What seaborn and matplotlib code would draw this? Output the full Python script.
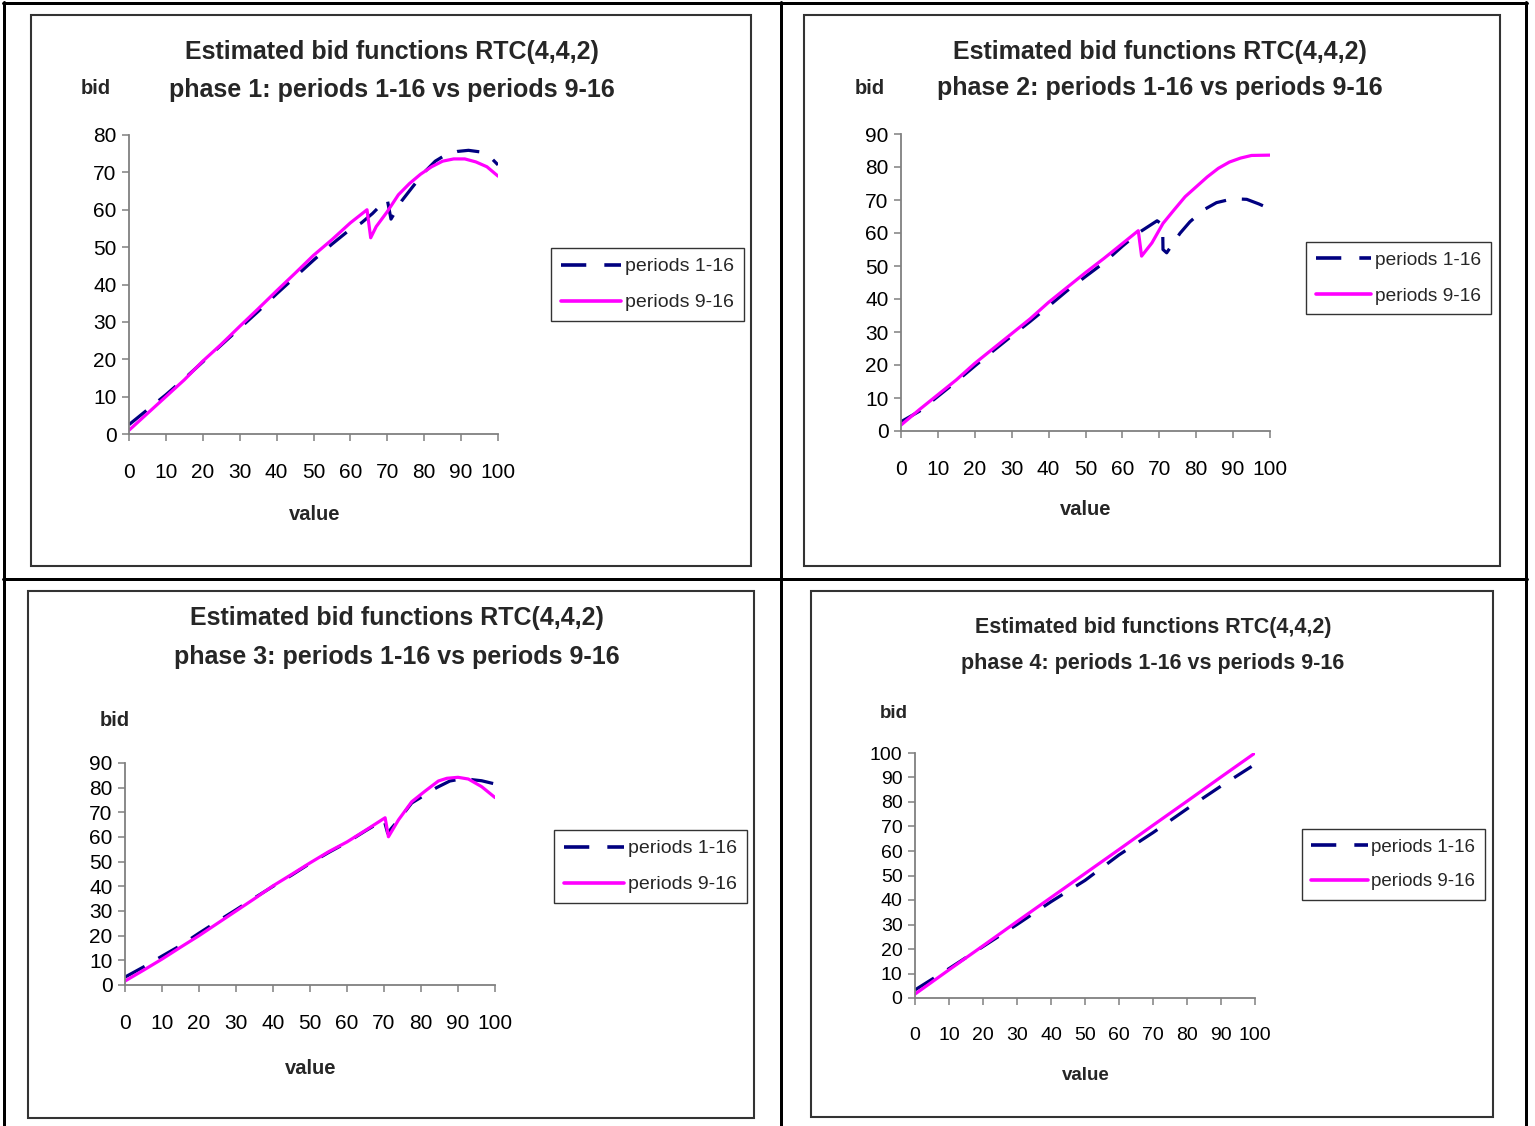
import matplotlib
matplotlib.use("Agg")
import matplotlib.pyplot as plt
import seaborn as sns
import pandas as pd
from matplotlib import font_manager
from matplotlib.patches import Rectangle
from matplotlib.lines import Line2D

# ---------------- data ----------------
title_line1 = "Estimated bid functions RTC(4,4,2)"
phase_titles = ["phase 1: periods 1-16 vs periods 9-16",
                "phase 2: periods 1-16 vs periods 9-16",
                "phase 3: periods 1-16 vs periods 9-16",
                "phase 4: periods 1-16 vs periods 9-16"]
series_names = ["periods 1-16", "periods 9-16"]
x_ticks = [0, 10, 20, 30, 40, 50, 60, 70, 80, 90, 100]

p1_all_x = [0, 5, 10, 15, 20, 25, 30, 35, 40, 45, 50, 55, 60, 63, 66, 68, 70, 71, 74, 77, 80, 83, 86, 89, 92, 95, 98, 100]
p1_all_y = [2.5, 6.5, 10.5, 14.8, 19.3, 23.8, 28.3, 32.8, 37.5, 42, 46.5, 50.8, 54.8, 56.5, 59, 61, 62.7, 57.5, 62.5, 66.3, 70, 73, 74.8, 75.6, 75.9, 75.5, 74, 72]
p1_late_x = [0, 5, 10, 15, 20, 25, 30, 35, 40, 45, 50, 55, 60, 64.5, 65.5, 67, 70, 73, 76, 79, 82, 85, 88, 91, 94, 97, 100]
p1_late_y = [1, 5.5, 10, 14.5, 19.5, 24, 28.8, 33.5, 38.3, 43, 47.8, 52, 56.5, 60, 52.5, 55.5, 59.5, 64, 67, 69.5, 71.5, 73, 73.6, 73.6, 72.8, 71.5, 69]

p2_all_x = [0, 5, 10, 15, 20, 25, 30, 35, 40, 45, 50, 55, 60, 64.3, 69.4, 70.9, 71, 72, 75.6, 78.3, 82, 85.5, 90, 93.7, 97, 100]
p2_all_y = [2.8, 6, 10.5, 15, 19.7, 24.3, 28.8, 33.2, 37.8, 42.5, 46.8, 51, 56, 60, 63.7, 62.5, 55, 54, 59.9, 63.4, 67, 69.2, 70.4, 70.2, 68.8, 67.3]
p2_late_x = [0, 5, 10, 15, 20, 25, 30, 35, 40, 45, 50, 55, 60, 64.3, 65.2, 68, 71, 74, 77, 80, 83, 86, 89, 92, 95, 100]
p2_late_y = [1.8, 6.5, 11, 15.5, 20.5, 25, 29.5, 34, 39, 43.5, 48, 52.3, 56.8, 60.7, 53, 57, 62.9, 67, 71, 74, 77, 79.6, 81.5, 82.7, 83.5, 83.6]

p3_all_x = [0, 5, 10, 15, 20, 25, 30, 35, 40, 45, 50, 55, 60, 65, 70, 71, 72, 74, 77.5, 81, 84.2, 87.8, 91.9, 94, 96.4, 100]
p3_all_y = [3.2, 7.3, 11.7, 16, 21, 25.8, 30.5, 35.3, 40, 44.5, 49.3, 53.7, 57.8, 62.5, 67, 61.5, 63.5, 67, 73.8, 77, 80, 82.7, 83.8, 83.2, 82.8, 81.5]
p3_late_x = [0, 5, 10, 15, 20, 25, 30, 35, 40, 45, 50, 55, 60, 65, 70.3, 71.2, 73.9, 77.5, 81.1, 84.7, 87, 90, 92.8, 96.4, 100]
p3_late_y = [1.6, 6, 10.5, 15.3, 20, 25, 30, 35, 40.2, 44.8, 49.5, 54, 58, 62.7, 67.8, 60.1, 66.9, 74.3, 78.6, 82.7, 83.8, 84.2, 83.5, 80.4, 76]

p4_all_x = [0, 10, 20, 30, 40, 50, 60, 70, 80, 90, 99]
p4_all_y = [3.3, 12, 21, 30, 39.3, 48, 58.4, 67.5, 77.2, 86.5, 94.5]
p4_late_x = [0, 10, 20, 30, 40, 50, 60, 70, 80, 90, 100]
p4_late_y = [1.6, 11.5, 21.3, 31.2, 41, 50.8, 60.6, 70.5, 80.3, 90.2, 100]

# ---------------- style ----------------
sns.set_theme(style="white")
names = {f.name for f in font_manager.fontManager.ttflist}
fam = ["Liberation Sans Narrow", "Liberation Sans", "DejaVu Sans"] if "Liberation Sans Narrow" in names else ["Liberation Sans", "DejaVu Sans"]
plt.rcParams["font.family"] = fam

W, H = 1535, 1126
fig = plt.figure(figsize=(W / 100, H / 100), dpi=100)
fig.patch.set_facecolor("white")

def fx(px):
    return px / W

def fy(py):
    return 1 - py / H

NAVY = "#000080"
MAG = "#FF00FF"

# outer table lines
def hline(y, x0, x1, lw=3, c="black"):
    fig.add_artist(Line2D([fx(x0), fx(x1)], [fy(y), fy(y)], color=c, lw=lw * 0.72, transform=fig.transFigure))

def vline(x, y0, y1, lw=3, c="black"):
    fig.add_artist(Line2D([fx(x), fx(x)], [fy(y0), fy(y1)], color=c, lw=lw * 0.72, transform=fig.transFigure))

hline(2.5, 3, 1527)
hline(579, 3, 1527)
vline(4, 2, 1126)
vline(781, 2, 1126)
vline(1526, 2, 1126)

# chart frames
frames = [(31, 15, 751, 566), (804, 15, 1500, 566), (28, 591, 754, 1118), (811, 591, 1493, 1117)]
for (x0, y0, x1, y1) in frames:
    fig.add_artist(Rectangle((fx(x0), fy(y1)), fx(x1) - fx(x0), fy(y0) - fy(y1), fill=False,
                             edgecolor="#333333", lw=1.5, transform=fig.transFigure))

panels = [
    dict(ax=(129, 498, 434, 135), ymax=80, xa=p1_all_x, ya=p1_all_y, xl=p1_late_x, yl=p1_late_y,
         tcx=392, t1y=52, t2y=90, tfs=18, bid=(96, 89), val=(315, 514), leg=(551, 248), fs=15, lfs=14.0, hl=3.1),
    dict(ax=(901, 1270, 431, 134), ymax=90, xa=p2_all_x, ya=p2_all_y, xl=p2_late_x, yl=p2_late_y,
         tcx=1160, t1y=52, t2y=88, tfs=18, bid=(870, 89), val=(1086, 509), leg=(1306, 242), fs=15, lfs=13.8, hl=2.9),
    dict(ax=(125, 495, 985, 763), ymax=90, xa=p3_all_x, ya=p3_all_y, xl=p3_late_x, yl=p3_late_y,
         tcx=397, t1y=618, t2y=657, tfs=18, bid=(115, 721), val=(311, 1068), leg=(554, 830), fs=15, lfs=14.0, hl=3.1),
    dict(ax=(915, 1255, 998, 753), ymax=100, xa=p4_all_x, ya=p4_all_y, xl=p4_late_x, yl=p4_late_y,
         tcx=1153, t1y=627, t2y=663, tfs=15.5, bid=(894, 713), val=(1086, 1076), leg=(1302, 829), fs=14, lfs=13.5, hl=3.0),
]

for i, p in enumerate(panels):
    l, r, b, t = p["ax"]
    ax = fig.add_axes([fx(l), fy(b), fx(r) - fx(l), fy(t) - fy(b)])
    ax.set_facecolor("none")
    da = pd.DataFrame({"value": p["xa"], "bid": p["ya"]})
    dl = pd.DataFrame({"value": p["xl"], "bid": p["yl"]})
    sns.lineplot(data=da, x="value", y="bid", ax=ax, color=NAVY, lw=2.3, linestyle=(0, (7, 5)),
                 label=series_names[0], legend=False)
    sns.lineplot(data=dl, x="value", y="bid", ax=ax, color=MAG, lw=2.3, label=series_names[1], legend=False)
    ax.set_xlim(0, 100)
    ax.set_ylim(0, p["ymax"])
    ax.margins(0)
    ax.set_xticks(x_ticks)
    ax.set_yticks(list(range(0, p["ymax"] + 1, 10)))
    for s in ["top", "right"]:
        ax.spines[s].set_visible(False)
    for s in ["left", "bottom"]:
        ax.spines[s].set_color("#808080")
        ax.spines[s].set_linewidth(1.3)
    ax.tick_params(axis="both", which="both", direction="out", length=5, width=1.1, color="#808080",
                   labelsize=p["fs"], labelcolor="black", left=True, bottom=True)
    ax.tick_params(axis="x", pad=16)
    ax.tick_params(axis="y", pad=4)
    ax.set_xlabel("")
    ax.set_ylabel("")
    # titles and labels
    fig.text(fx(p["tcx"]), fy(p["t1y"]), title_line1, ha="center", va="center", fontsize=p["tfs"], fontweight="bold")
    fig.text(fx(p["tcx"]), fy(p["t2y"]), phase_titles[i], ha="center", va="center", fontsize=p["tfs"], fontweight="bold")
    fig.text(fx(p["bid"][0]), fy(p["bid"][1]), "bid", ha="center", va="center", fontsize=p["fs"] - 0.5, fontweight="bold")
    fig.text(fx(p["val"][0]), fy(p["val"][1]), "value", ha="center", va="center", fontsize=p["fs"] - 0.5, fontweight="bold")
    # legend
    lx0, ly0 = p["leg"]
    handles = [Line2D([], [], color=NAVY, lw=2.6, linestyle=(0, (7, 5))), Line2D([], [], color=MAG, lw=2.6)]
    leg = ax.legend(handles, series_names, loc="upper left", bbox_to_anchor=(fx(lx0), fy(ly0)),
                    bbox_transform=fig.transFigure, frameon=True, fancybox=False, fontsize=p["lfs"],
                    handlelength=p["hl"], handletextpad=0.2, labelspacing=0.95, borderpad=0.5, borderaxespad=0)
    leg.get_frame().set_edgecolor("black")
    leg.get_frame().set_linewidth(1.0)

fig.savefig("out.png", dpi=100, facecolor="white")
